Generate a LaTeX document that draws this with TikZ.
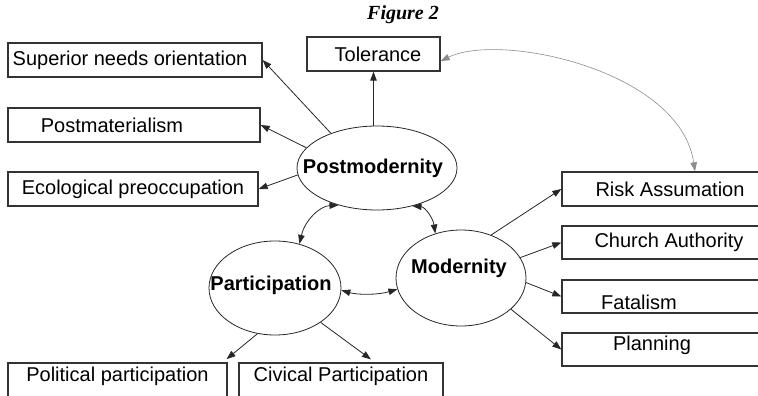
\documentclass[tikz,border=0pt]{standalone}
\usepackage{fontspec}
\setmainfont{Liberation Sans}
\newfontfamily\figfont{Liberation Serif}
\usetikzlibrary{arrows.meta,shapes.geometric}

\begin{document}
\begin{tikzpicture}[x=1pt, y=-1pt, >={Triangle[length=9pt,width=6.5pt]},
        box/.style={draw=black!80, line width=1.3pt, minimum height=34pt, inner sep=0pt, font=\fontsize{20}{24}\selectfont},
        lowbox/.style={box, minimum height=40pt, text depth=18pt},
        ell/.style={ellipse, draw=black!85, line width=0.8pt, inner sep=0pt},
        elltext/.style={font=\fontsize{20}{24}\selectfont\bfseries},
        link/.style={->, black!85, line width=0.8pt}]
        \useasboundingbox (0,0) rectangle (758,396);
        \node (title) at (403,15) {\figfont\fontsize{20}{24}\selectfont\bfseries\itshape Figure 2};

        \node[box, minimum width=254pt] (sno) at (135,60) {Superior needs orientation\hspace*{10pt}};
        \node[box, minimum width=252pt] (pmat) at (134,125) {Postmaterialism\hspace*{44pt}};
        \node[box, minimum width=250pt] (eco) at (133,189) {Ecological preoccupation};
        \node[box, minimum width=133pt] (tol) at (373.5,54) {\hspace*{9pt}Tolerance};
        \node[box, minimum width=200pt] (risk) at (662,189) {\hspace*{16pt}Risk Assumation};
        \node[box, minimum width=200pt, minimum height=33pt] (church) at (662,242.5) {\hspace*{14pt}Church Authority};
        \node[box, minimum width=200pt, minimum height=33pt, text height=27pt] (fatal) at (662,296.5) {Fatalism\hspace*{46pt}};
        \node[box, minimum width=200pt, minimum height=33pt, text depth=13pt] (plan) at (662,349.5) {Planning\hspace*{20pt}};
        \node[lowbox, minimum width=219pt] (polit) at (117.5,383) {Political participation};
        \node[lowbox, minimum width=204pt] (civ) at (341,383) {Civical Participation};

        \node[ell, minimum width=160pt, minimum height=84pt, label={[elltext, xshift=-4pt]center:Postmodernity}] (pm) at (377,168) {};
        \node[ell, minimum width=132pt, minimum height=94pt, label={[elltext, xshift=-4pt, yshift=3pt]center:Participation}] (part) at (275,288) {};
        \node[ell, minimum width=130pt, minimum height=96pt, label={[elltext, xshift=-2pt, yshift=10pt]center:Modernity}] (mod) at (461,278) {};

        \draw[link] (pm.143) -- (sno.east);
        \draw[link] (pm.164) -- (pmat.east);
        \draw[link] (pm.185) -- (eco.east);
        \draw[link] (pm.north -| tol.south) -- (tol.south);
        \draw[<->, black!45, line width=0.6pt] (tol.-6) .. controls (500,32) and (680,70) .. ([xshift=33pt]risk.north);

        \draw[<->, black!85, line width=0.8pt] (pm.224) .. controls (320,206) and (305,220) .. (part.61);
        \draw[<->, black!85, line width=0.8pt] (pm.313) .. controls (425,207) and (433,218) .. (mod.120);
        \draw[<->, black!85, line width=0.8pt] (part.-2) .. controls (358,295) and (378,295) .. (mod.190);

        \draw[link, shorten >=5pt] (part.249) -- ([xshift=-5pt]polit.north east);
        \draw[link, shorten >=5pt] (part.323) -- ([xshift=34pt]civ.north);

        \draw[link] (mod.55) -- (risk.west);
        \draw[link] (mod.19) -- (church.west);
        \draw[link] (mod.-4) -- (fatal.west);
        \draw[link] (mod.-32) -- (plan.west);
      \end{tikzpicture}
\end{document}
